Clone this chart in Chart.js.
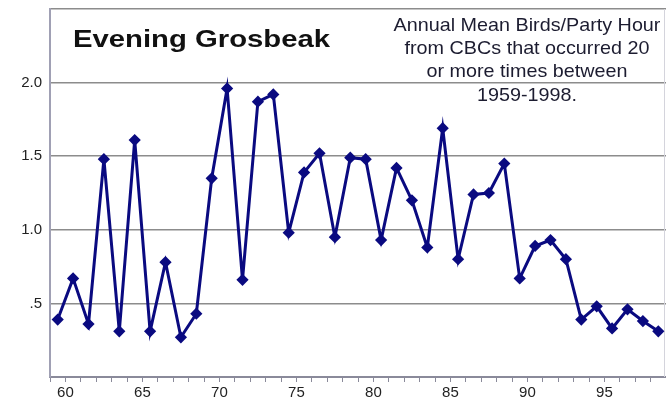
<!DOCTYPE html>
<html>
<head>
<meta charset="utf-8">
<script src="https://cdn.jsdelivr.net/npm/chart.js@4"></script>
<style>
  html, body { margin: 0; padding: 0; background: #fff; }
  #wrap { width: 666px; height: 400px; position: relative; }
</style>
</head>
<body>
<div id="wrap"><canvas id="myChart"></canvas></div>
<script>
// data: 1959-1998
const years = [1959, 1960, 1961, 1962, 1963, 1964, 1965, 1966, 1967, 1968,
               1969, 1970, 1971, 1972, 1973, 1974, 1975, 1976, 1977, 1978,
               1979, 1980, 1981, 1982, 1983, 1984, 1985, 1986, 1987, 1988,
               1989, 1990, 1991, 1992, 1993, 1994, 1995, 1996, 1997, 1998];
const birdsPerHour = [0.39, 0.67, 0.36, 1.48, 0.31, 1.61, 0.31, 0.78, 0.27, 0.43,
                      1.35, 1.96, 0.66, 1.87, 1.92, 0.98, 1.39, 1.52, 0.95, 1.49,
                      1.48, 0.93, 1.42, 1.20, 0.88, 1.69, 0.80, 1.24, 1.25, 1.45,
                      0.67, 0.89, 0.93, 0.80, 0.39, 0.48, 0.33, 0.46, 0.38, 0.31];
const yTickLabels = { 0.5: '.5', 1: '1.0', 1.5: '1.5', 2: '2.0' };
const titleText = 'Evening Grosbeak';
const noteLines = ['Annual Mean Birds/Party Hour', 'from CBCs that occurred 20',
                   'or more times between', '1959-1998.'];

const chart = document.querySelector('#myChart');

// each point sits in the middle of its year slot
const points = years.map((y, i) => ({ x: y + 0.5, y: birdsPerHour[i] }));

function drawStretched(ctx, text, x, y, font, sx, align) {
    ctx.save();
    ctx.font = font;
    ctx.textAlign = align;
    ctx.textBaseline = 'alphabetic';
    ctx.translate(x, y);
    ctx.scale(sx, 1);
    ctx.fillText(text, 0, 0);
    ctx.restore();
}

const textPlugin = {
    id: 'textPlugin',
    beforeDatasetsDraw(c) {
        // light border on the right of the plot
        const a = c.chartArea;
        const ctx = c.ctx;
        ctx.save();
        ctx.strokeStyle = '#d4d4dc';
        ctx.lineWidth = 1;
        ctx.beginPath();
        ctx.moveTo(a.right - 1.5, a.top);
        ctx.lineTo(a.right - 1.5, a.bottom);
        ctx.stroke();
        ctx.restore();
    },
    afterDraw(c) {
        const ctx = c.ctx;
        ctx.fillStyle = '#111';
        drawStretched(ctx, titleText, 73, 47, 'bold 24px "Liberation Sans", Arial', 1.22, 'left');
        ctx.fillStyle = '#1c1c30';
        noteLines.forEach((line, i) => {
            drawStretched(ctx, line, 527, 30.5 + i * 23.4, '19px "Liberation Sans", Arial', 1.04, 'center');
        });
    }
};

const myChart = new Chart(chart, {
    type: 'line',
    data: {
        datasets: [{
            label: 'Birds/Party Hour',
            data: points,
            borderColor: '#0a0a80',
            backgroundColor: '#0a0a80',
            borderWidth: 3,
            pointStyle: 'rectRot',
            pointRadius: 4,
            tension: 0
        }]
    },
    options: {
        responsive: true,
        maintainAspectRatio: false,
        animation: false,
        layout: { autoPadding: false, padding: { top: 9, right: 0, left: 0, bottom: 0 } },
        plugins: {
            legend: { display: false },
            tooltip: { enabled: false }
        },
        scales: {
            x: {
                type: 'linear',
                min: 1959,
                max: 1999,
                afterFit: (s) => { s.height = 23; s.paddingRight = 0; s.paddingLeft = 0; },
                border: { color: '#8a8a9a', width: 2 },
                grid: {
                    drawOnChartArea: false,
                    drawTicks: true,
                    tickLength: 5,
                    color: '#8a8a9a',
                    lineWidth: 1
                },
                ticks: {
                    stepSize: 1,
                    autoSkip: false,
                    maxRotation: 0,
                    padding: 2,
                    color: '#222',
                    font: { family: '"Liberation Sans", Arial', size: 15 },
                    callback: (v) => (v % 5 === 0 && v < 1999) ? String(v).slice(2) : ''
                }
            },
            y: {
                min: 0,
                max: 2.5,
                afterFit: (s) => { s.width = 50; s.paddingTop = 0; s.paddingBottom = 0; },
                border: { color: '#a0a0b4', width: 2 },
                grid: {
                    color: '#8c8c8c',
                    lineWidth: 1.5,
                    drawTicks: false
                },
                ticks: {
                    stepSize: 0.5,
                    padding: 8,
                    color: '#222',
                    font: { family: '"Liberation Sans", Arial', size: 15 },
                    callback: (v) => yTickLabels[v] || ''
                }
            }
        }
    },
    plugins: [textPlugin]
});
</script>
</body>
</html>
